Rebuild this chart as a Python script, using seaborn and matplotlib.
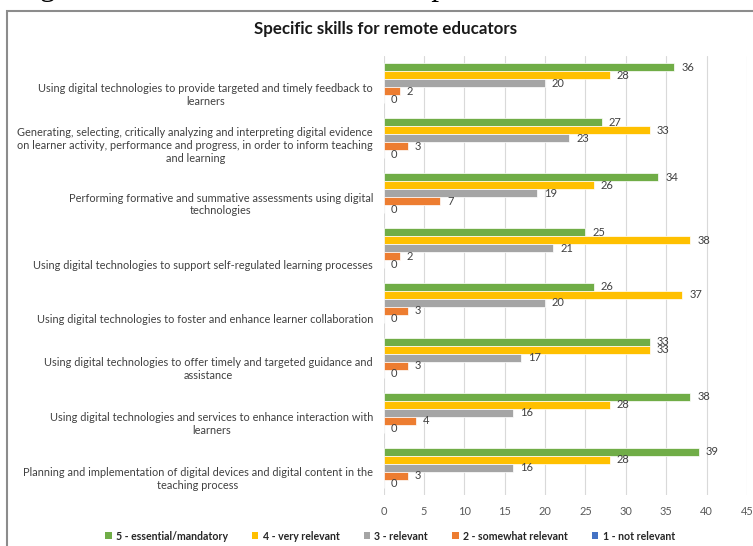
import matplotlib
matplotlib.use("Agg")
import matplotlib.pyplot as plt
import matplotlib.patches as mpatches
import seaborn as sns
import pandas as pd

# ---- data -------------------------------------------------------------
skills = [
    "Using digital technologies to provide targeted and timely feedback to\nlearners",
    "Generating, selecting, critically analyzing and interpreting digital evidence\n"
    "on learner activity, performance and progress, in order to inform teaching\nand learning",
    "Performing formative and summative assessments using digital\ntechnologies",
    "Using digital technologies to support self-regulated learning processes",
    "Using digital technologies to foster and enhance learner collaboration",
    "Using digital technologies to offer timely and targeted guidance and\nassistance",
    "Using digital technologies and services to enhance interaction with\nlearners",
    "Planning and implementation of digital devices and digital content in the\nteaching process",
]
ratings = [
    "5 - essential/mandatory",
    "4 - very relevant",
    "3 - relevant",
    "2 - somewhat relevant",
    "1 - not relevant",
]
essential = [36, 27, 34, 25, 26, 33, 38, 39]
very_relevant = [28, 33, 26, 38, 37, 33, 28, 28]
relevant = [20, 23, 19, 21, 20, 17, 16, 16]
somewhat_relevant = [2, 3, 7, 2, 3, 3, 4, 3]
not_relevant = [0, 0, 0, 0, 0, 0, 0, 0]
x_ticks = [0, 5, 10, 15, 20, 25, 30, 35, 40, 45]

title = "Specific skills for remote educators"
caption = "Figure 4. Assessed relevance of Specific skills for remote educators"

colors = ["#70AD47", "#FFC000", "#A5A5A5", "#ED7D31", "#4472C4"]

series = [essential, very_relevant, relevant, somewhat_relevant, not_relevant]
rows = []
for rating, values in zip(ratings, series):
    for skill, v in zip(skills, values):
        rows.append({"skill": skill, "rating": rating, "count": v})
df = pd.DataFrame(rows)

# ---- figure -----------------------------------------------------------
sns.set_theme(style="white")
plt.rcParams["font.family"] = ["Lato", "DejaVu Sans"]

W, H = 753, 546
fig = plt.figure(figsize=(W / 100, H / 100), dpi=100)
ax = fig.add_axes([383.5 / W, 1 - 495 / H, (747 - 383.5) / W, (495 - 56) / H])

sns.barplot(
    data=df, y="skill", x="count", hue="rating",
    order=skills, hue_order=ratings, palette=colors,
    orient="h", width=0.727, saturation=1, legend=False,
    edgecolor="white", linewidth=0.5, ax=ax,
)

for container in ax.containers:
    ax.bar_label(container, padding=5, fontsize=8, color="#404040")

ax.set_xlim(0, 45)
ax.set_xticks(x_ticks)
ax.set_xlabel("")
ax.set_ylabel("")
ax.grid(axis="x", color="#D9D9D9", linewidth=0.8)
ax.grid(axis="y", visible=False)
ax.set_axisbelow(True)
for s in ax.spines.values():
    s.set_visible(False)

# category labels sit a little below the centre of each group
band_px = (495 - 56) / len(skills)
shift_px = {1: 16, 2: 9.5, 3: 5}
ypos = [i + shift_px[s.count("\n") + 1] / band_px for i, s in enumerate(skills)]
ax.set_yticks(ypos)
ax.set_yticklabels(skills, fontsize=7.9, color="#404040", multialignment="center")
ax.tick_params(axis="y", length=0, pad=7.5)
ax.tick_params(axis="x", length=0, pad=8, labelsize=7.9, labelcolor="#595959")

# chart title
fig.text(386 / W, 1 - 29 / H, title, ha="center", va="center",
         fontsize=12.2, fontweight="bold", color="#1a1a1a")

# legend along the bottom
handles = [mpatches.Patch(facecolor=c, edgecolor="none", label=r)
           for c, r in zip(colors, ratings)]
fig.legend(handles=handles, loc="center", bbox_to_anchor=(390 / W, 1 - 536 / H),
           ncol=5, frameon=False, handlelength=0.6, handleheight=0.6,
           handletextpad=0.4, columnspacing=2.3,
           prop={"weight": "bold", "size": 7.6})

# chart frame and the document caption running above it
fig.patches.append(mpatches.Rectangle(
    (7 / W, -0.2), 1.2, 1 - 11 / H + 0.2, transform=fig.transFigure,
    fill=False, edgecolor="#8c8c8c", linewidth=1.5))
fig.text(14 / W, 1 + 5 / H, caption, ha="left", va="baseline",
         family=["Liberation Serif", "DejaVu Serif"], fontsize=22.3, color="black")

fig.savefig("out.png", dpi=100)
